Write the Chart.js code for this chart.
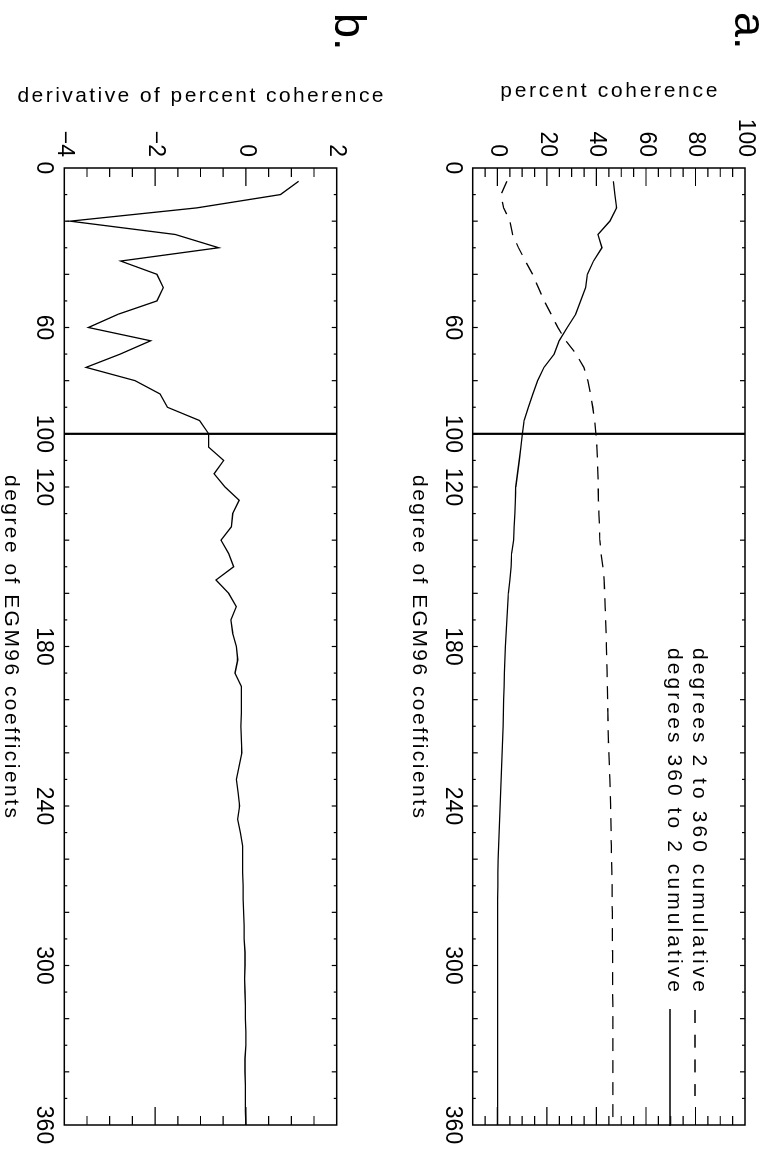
<!DOCTYPE html>
<html><head><meta charset="utf-8">
<script src="https://cdn.jsdelivr.net/npm/chart.js@4.4.0/dist/chart.umd.min.js"></script>
<style>
html,body{margin:0;padding:0;background:#fff;overflow:hidden;width:778px;height:1156px;}
#rot{position:absolute;left:0;top:0;width:1156px;height:778px;transform-origin:0 0;transform:translate(778px,0) rotate(90deg);background:#fff;}
#rot canvas{position:absolute;left:0;}
#ca{top:0;}
#cb{top:389px;}
</style></head><body>
<div id="rot"><canvas id="ca" width="1156" height="389"></canvas><canvas id="cb" width="1156" height="389"></canvas></div>
<script>
// ---------------- data ----------------
const degrees = [5,10,15,20,25,30,35,40,45,50,55,60,65,70,75,80,85,90,95,100,
  105,110,115,120,125,130,135,140,145,150,155,160,165,170,175,180,185,190,195,200,
  205,210,215,220,225,230,235,240,245,250,255,260,265,270,275,280,285,290,295,300,
  305,310,315,320,325,330,335,340,345,350,355,360];

const cumulative2to360 = [3.8,1.4,2.5,5.0,6.1,8.5,11.3,14.2,16.5,18.9,21.7,24.4,27.6,31.8,34.9,36.5,37.6,38.5,39.3,39.8,
  40.2,40.4,40.6,40.7,40.8,41.0,41.2,41.4,41.8,42.6,43.1,43.3,43.5,43.7,43.9,44.0,44.2,44.3,44.4,44.5,
  44.6,44.7,44.8,45.0,45.2,45.4,45.6,45.7,45.8,45.9,46.0,46.1,46.2,46.3,46.3,46.4,46.4,46.4,46.5,46.5,
  46.5,46.5,46.6,46.6,46.6,46.6,46.6,46.6,46.6,46.6,46.6,46.6];

const cumulative360to2 = [46.8,47.4,48.1,45.4,40.6,42.2,38.8,36.3,35.6,33.6,31.6,28.2,24.9,22.9,18.8,16.2,14.3,12.5,10.8,10.1,
  9.5,8.8,8.1,7.4,7.2,7.0,6.7,6.5,5.7,5.5,5.0,4.4,4.1,3.8,3.5,3.2,3.0,2.8,2.7,2.5,
  2.4,2.3,2.1,1.9,1.7,1.5,1.3,1.1,0.9,0.7,0.5,0.3,0.2,0.2,0.1,0.1,0.1,0.1,0.1,0.1,
  0.1,0.1,0.1,0.1,0.1,0.1,0.1,0.1,0.1,0.1,0.1,0.1];

const derivative = [1.16,0.76,-1.08,-3.87,-1.56,-0.60,-2.76,-1.96,-1.82,-1.96,-2.81,-3.47,-2.10,-2.77,-3.52,-2.44,-1.89,-1.73,-1.02,-0.82,
  -0.82,-0.49,-0.70,-0.46,-0.15,-0.29,-0.32,-0.55,-0.38,-0.27,-0.66,-0.38,-0.21,-0.33,-0.29,-0.21,-0.18,-0.24,-0.10,-0.10,
  -0.10,-0.11,-0.10,-0.09,-0.15,-0.21,-0.17,-0.14,-0.18,-0.12,-0.07,-0.07,-0.07,-0.06,-0.06,-0.05,-0.04,-0.04,-0.02,-0.02,
  -0.03,-0.02,-0.01,-0.01,0.00,0.00,-0.02,-0.02,-0.01,-0.01,-0.01,0.00];

const degreeTickLabels = [0,60,100,120,180,240,300,360];
const coherenceTicks = [0,20,40,60,80,100];
const derivativeTicks = [-4,-2,0,2];
const markerDegree = 100;
const legendLabels = ['degrees 2 to 360 cumulative','degrees 360 to 2 cumulative'];

// ---------------- drawing ----------------
const FAMILY = "'Liberation Sans', Arial, Helvetica, sans-serif";
Chart.defaults.font.family = FAMILY;
Chart.defaults.color = '#000';

function spacedText(ctx, text, x, y, targetWidth, align) {
  const chars = Array.from(text);
  const widths = chars.map(c => ctx.measureText(c).width);
  const w0 = widths.reduce((a,b)=>a+b,0);
  const sp = targetWidth ? (targetWidth - w0) / (chars.length - 1) : 0;
  const total = w0 + sp * (chars.length - 1);
  let pos = align === 'center' ? x - total/2 : x;
  ctx.textAlign = 'left';
  chars.forEach((c,i) => { ctx.fillText(c, pos, y); pos += widths[i] + sp; });
}

const framePlugin = {
  id: 'frame',
  afterDatasetsDraw(chart, args, o) {
    const {ctx, chartArea: a} = chart;
    const x = chart.scales.x, y = chart.scales.y;
    ctx.save();
    ctx.strokeStyle = '#000';
    ctx.lineWidth = 1.2;
    ctx.beginPath();
    for (let d = 10; d < 360; d += 10) {
      const px = x.getPixelForValue(d);
      const len = d % 20 === 0 ? 5 : 3;
      ctx.moveTo(px, a.bottom); ctx.lineTo(px, a.bottom - len);
      ctx.moveTo(px, a.top); ctx.lineTo(px, a.top + len);
    }
    const kStart = Math.round(o.yMin / o.minor) + 1;
    for (let k = kStart; k * o.minor < o.yMax - 1e-9; k++) {
      const v = k * o.minor;
      const py = y.getPixelForValue(v);
      const r = v / o.major;
      const len = Math.abs(r - Math.round(r)) < 1e-6 ? 18 : 9;
      ctx.moveTo(a.left, py); ctx.lineTo(a.left + len, py);
      ctx.moveTo(a.right, py); ctx.lineTo(a.right - len, py);
    }
    ctx.stroke();
    const mx = x.getPixelForValue(markerDegree);
    ctx.lineWidth = 2.2;
    ctx.beginPath(); ctx.moveTo(mx, a.top); ctx.lineTo(mx, a.bottom); ctx.stroke();
    ctx.lineWidth = 1.5;
    ctx.strokeRect(a.left, a.top, a.right - a.left, a.bottom - a.top);
    ctx.restore();
  },
  afterDraw(chart, args, o) {
    const {ctx, chartArea: a} = chart;
    ctx.save();
    ctx.fillStyle = '#000';
    ctx.textBaseline = 'alphabetic';
    ctx.font = '21px ' + FAMILY;
    ctx.save();
    ctx.translate(o.yTitleBase, (a.top + a.bottom) / 2);
    ctx.rotate(-Math.PI / 2);
    spacedText(ctx, o.yTitle, 0, 0, o.yTitleWidth, 'center');
    ctx.restore();
    spacedText(ctx, 'degree of EGM96 coefficients', (a.left + a.right) / 2, a.bottom + 59.2, 343, 'center');
    ctx.font = '45px ' + FAMILY;
    ctx.textAlign = 'left';
    ctx.fillText(o.panel, o.panelX, o.panelY);
    if (o.legend) {
      ctx.font = '21px ' + FAMILY;
      const ds = chart.data.datasets;
      const rows = [{i:0, base:84.5, line:83, start:1010, end:1096}, {i:1, base:109.5, line:108, start:1009, end:a.right + 1}];
      rows.forEach(r => {
        const d = ds[r.i];
        spacedText(ctx, d.label, 648, r.base, 344, 'left');
        ctx.save();
        ctx.strokeStyle = '#000';
        ctx.lineWidth = 1.3;
        ctx.setLineDash(d.borderDash ? [13, 11.7] : []);
        ctx.beginPath();
        ctx.moveTo(r.start, r.line); ctx.lineTo(r.end, r.line);
        ctx.stroke();
        ctx.restore();
      });
    }
    ctx.restore();
  }
};

function makeOptions(cfg) {
  return {
    responsive: false,
    animation: false,
    events: [],
    layout: { padding: { left: 0, right: 31, top: cfg.padTop, bottom: 0 } },
    plugins: {
      legend: { display: false },
      tooltip: { enabled: false },
      frame: cfg.frame
    },
    scales: {
      x: {
        type: 'linear', min: 0, max: 360,
        afterFit: s => { s.height = cfg.xAxisHeight; },
        afterBuildTicks: s => { s.ticks = degreeTickLabels.map(v => ({value: v})); },
        grid: { display: false, drawTicks: false },
        border: { display: false },
        ticks: { autoSkip: false, maxRotation: 0, minRotation: 0, padding: 7, color: '#000',
                 font: { size: 23, family: FAMILY }, callback: v => String(v) }
      },
      y: {
        type: 'linear', min: cfg.yMin, max: cfg.yMax,
        afterFit: s => { s.width = 168; },
        afterBuildTicks: s => { s.ticks = cfg.yTicks.map(v => ({value: v})); },
        grid: { display: false, drawTicks: false },
        border: { display: false },
        ticks: { padding: 11, color: '#000', font: { size: 23, family: FAMILY },
                 callback: v => v < 0 ? '\u2212' + Math.abs(v) : String(v) }
      }
    }
  };
}

const pts = arr => degrees.map((d, i) => ({x: d, y: arr[i]}));

new Chart(document.getElementById('ca'), {
  type: 'line',
  data: { datasets: [
    { label: legendLabels[0], data: pts(cumulative2to360), borderColor: '#000', borderWidth: 1.3,
      borderDash: [13, 9], pointRadius: 0, tension: 0, fill: false },
    { label: legendLabels[1], data: pts(cumulative360to2), borderColor: '#000', borderWidth: 1.3,
      pointRadius: 0, tension: 0, fill: false }
  ]},
  options: makeOptions({
    padTop: 33, xAxisHeight: 83.7, yMin: -10, yMax: 100, yTicks: coherenceTicks,
    frame: { yMin: -10, yMax: 100, minor: 5, major: 20, yTitle: 'percent coherence',
             yTitleBase: 97, yTitleWidth: 217, panel: 'a.', panelX: 12, panelY: 43, legend: true }
  }),
  plugins: [framePlugin]
});

new Chart(document.getElementById('cb'), {
  type: 'line',
  data: { datasets: [
    { label: 'derivative of percent coherence', data: pts(derivative), borderColor: '#000', borderWidth: 1.3,
      pointRadius: 0, tension: 0, fill: false }
  ]},
  options: makeOptions({
    padTop: 52.3, xAxisHeight: 64.3, yMin: -4, yMax: 2, yTicks: derivativeTicks,
    frame: { yMin: -4, yMax: 2, minor: 0.5, major: 2, yTitle: 'derivative of percent coherence',
             yTitleBase: 102, yTitleWidth: 366, panel: 'b.', panelX: 13, panelY: 54, legend: false }
  }),
  plugins: [framePlugin]
});
</script>
</body></html>
